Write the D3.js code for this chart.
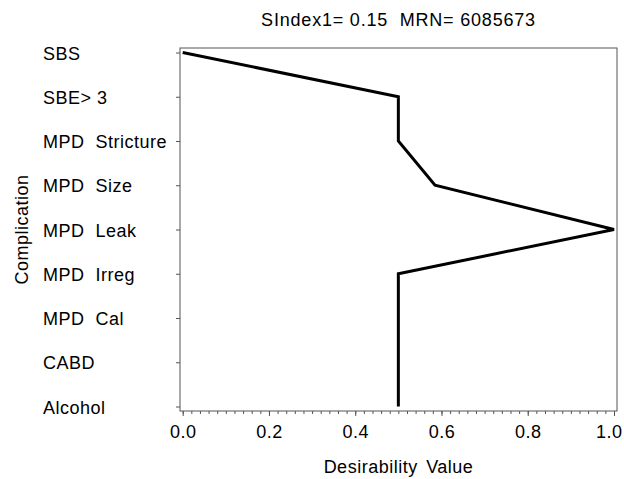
<!DOCTYPE html>
<html>
<head>
<meta charset="utf-8">
<script src="https://cdn.jsdelivr.net/npm/d3@7"></script>
<style>
  body { margin: 0; background: #fff; }
  text { font-family: Arial, "Liberation Sans", sans-serif; fill: #000; letter-spacing: 0.5px; }
</style>
</head>
<body>
<div id="chart"></div>
<script>
// chart values
var complications = ["SBS", "SBE> 3", "MPD  Stricture", "MPD  Size", "MPD  Leak", "MPD  Irreg", "MPD  Cal", "CABD", "Alcohol"];
var desirability = [0.0, 0.5, 0.5, 0.585, 1.0, 0.5, 0.5, 0.5, 0.5];
var xTicks = [0, 0.2, 0.4, 0.6, 0.8, 1.0];
var titleText = "SIndex1= 0.15  MRN= 6085673";

var svgWidth = 624, svgHeight = 479;
var margin = { top: 48, right: 7, bottom: 68, left: 180 };
var width = svgWidth - margin.left - margin.right;
var height = svgHeight - margin.top - margin.bottom;

var svg = d3.select("#chart").append("svg")
  .attr("width", svgWidth)
  .attr("height", svgHeight);

var chartGroup = svg.append("g")
  .attr("transform", `translate(${margin.left}, ${margin.top})`);

var xScale = d3.scaleLinear().domain([0, 1]).range([2.7, 434]);
var yScale = d3.scalePoint().domain(complications).range([4.5, 358.5]);

// frame
chartGroup.append("rect")
  .attr("x", 0).attr("y", 0)
  .attr("width", width).attr("height", height)
  .attr("fill", "none").attr("stroke", "#555").attr("stroke-width", 1);

// x axis, major + minor ticks
var xAxisG = chartGroup.append("g").attr("transform", `translate(0, ${height})`);
xAxisG.append("g")
  .call(d3.axisBottom(xScale).tickValues(d3.range(0, 51).map(d => d / 50)).tickSize(3).tickFormat(""))
  .call(g => g.select(".domain").remove())
  .selectAll("line").attr("stroke", "#555");
xAxisG.append("g")
  .call(d3.axisBottom(xScale).tickValues(xTicks).tickSize(5).tickFormat(d3.format(".1f")))
  .call(g => g.select(".domain").remove())
  .call(g => g.selectAll("line").attr("stroke", "#555"))
  .selectAll("text")
  .attr("y", 14)
  .attr("font-size", 18);

// last tick label is kept inside the picture, as in the original
xAxisG.selectAll(".tick").filter(d => d === 1).select("text")
  .attr("text-anchor", "end")
  .attr("x", 622 - margin.left - xScale(1));

// y axis
var yAxisG = chartGroup.append("g")
  .call(d3.axisLeft(yScale).tickSize(4).tickFormat(""))
  .call(g => g.select(".domain").remove());
yAxisG.selectAll("line").attr("stroke", "#555");

chartGroup.selectAll(".ylab")
  .data(complications)
  .enter()
  .append("text")
  .attr("class", "ylab")
  .attr("x", 43 - margin.left)
  .attr("y", d => yScale(d) + 7)
  .attr("font-size", 18)
  .style("white-space", "pre")
  .text(d => d);

// line
var line = d3.line()
  .x(d => xScale(d.v))
  .y(d => yScale(d.c));

chartGroup.append("path")
  .datum(complications.map((c, i) => ({ c: c, v: desirability[i] })))
  .attr("d", line)
  .attr("fill", "none")
  .attr("stroke", "#000")
  .attr("stroke-width", 3);

// labels
svg.append("text")
  .attr("x", margin.left + width / 2)
  .attr("y", 26)
  .attr("text-anchor", "middle")
  .attr("font-size", 18)
  .style("letter-spacing", "0.8px")
  .style("white-space", "pre")
  .text(titleText);

svg.append("text")
  .attr("x", margin.left + width / 2)
  .attr("y", 473)
  .attr("text-anchor", "middle")
  .attr("font-size", 18)
  .style("word-spacing", "3px")
  .text("Desirability Value");

svg.append("text")
  .attr("transform", `translate(28, ${margin.top + height / 2}) rotate(-90)`)
  .attr("text-anchor", "middle")
  .attr("font-size", 18)
  .text("Complication");
</script>
</body>
</html>
